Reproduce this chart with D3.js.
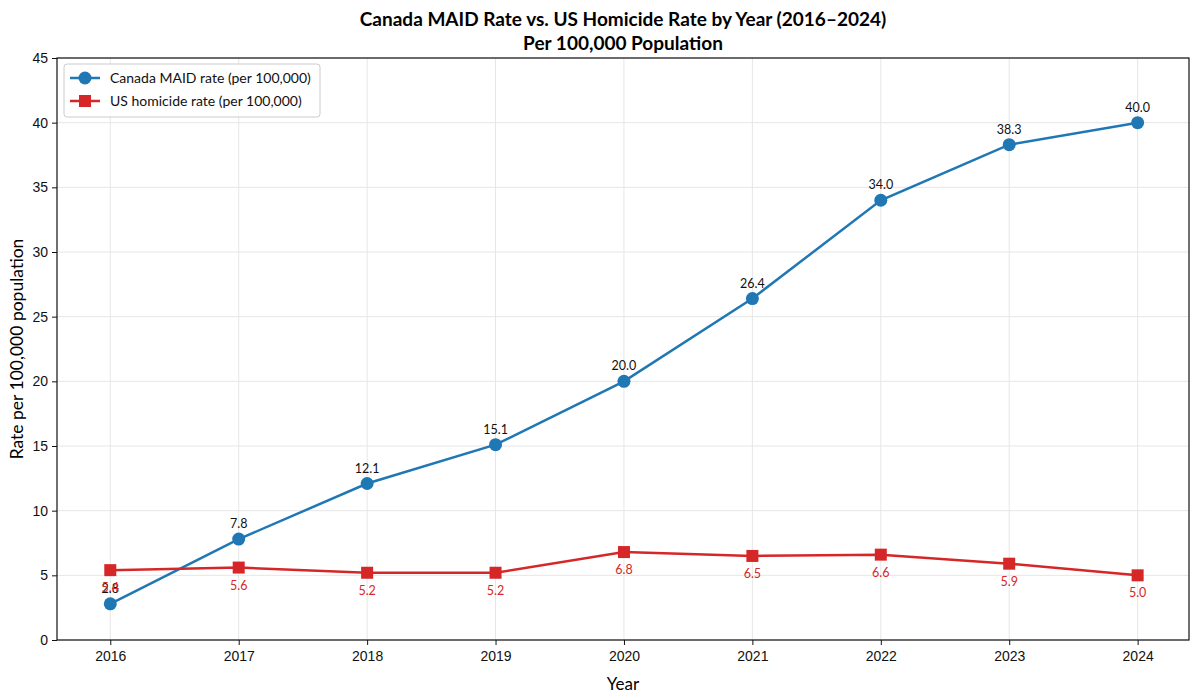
<!DOCTYPE html>
<html>
<head>
<meta charset="utf-8">
<script src="https://cdn.jsdelivr.net/npm/d3@7"></script>
<style>
  body { margin: 0; background: #fff; }
  svg { font-family: "Lato", "Noto Sans", sans-serif; }
  .grid line { stroke: #e6e6e6; stroke-width: 1; }
  .axis text { font-size: 14px; fill: #111; }
  .axis path, .axis line { stroke: #111; }
</style>
</head>
<body>
<div id="chart"></div>
<script>
// data
var years = [2016, 2017, 2018, 2019, 2020, 2021, 2022, 2023, 2024];
var maidRate = [2.8, 7.8, 12.1, 15.1, 20.0, 26.4, 34.0, 38.3, 40.0];
var usHomicide = [5.4, 5.6, 5.2, 5.2, 6.8, 6.5, 6.6, 5.9, 5.0];
var yTicks = [0, 5, 10, 15, 20, 25, 30, 35, 40, 45];

var W = 1199, H = 698;
var margin = {top: 58, right: 10, bottom: 58, left: 57},
    w = W - margin.left - margin.right,
    h = H - margin.top - margin.bottom;

var blue = "#1f77b4", red = "#d62728";

var svg = d3.select("#chart").append("svg")
            .attr("width", W).attr("height", H);

/***Title***/
svg.append("text")
   .attr("x", margin.left + w / 2).attr("y", 26)
   .attr("text-anchor", "middle")
   .style("font-size", "19px").style("font-weight", "bold")
   .text("Canada MAID Rate vs. US Homicide Rate by Year (2016\u20132024)");
svg.append("text")
   .attr("x", margin.left + w / 2).attr("y", 50)
   .attr("text-anchor", "middle")
   .style("font-size", "19px").style("font-weight", "bold")
   .text("Per 100,000 Population");

var g = svg.append("g")
           .attr("transform", "translate(" + margin.left + "," + margin.top + ")");

/***Scales***/
var xScale = d3.scaleLinear().domain([2015.585, 2024.4]).range([0, w]);
var yScale = d3.scaleLinear().domain([0, 45]).range([h, 0]);

/***Grid***/
var grid = g.append("g").attr("class", "grid");
grid.selectAll(".gx").data(years).enter().append("line")
    .attr("x1", function(d){ return xScale(d); })
    .attr("x2", function(d){ return xScale(d); })
    .attr("y1", 0).attr("y2", h);
grid.selectAll(".gy").data(yTicks).enter().append("line")
    .attr("x1", 0).attr("x2", w)
    .attr("y1", function(d){ return yScale(d); })
    .attr("y2", function(d){ return yScale(d); });

/***Axes***/
var xAxis = d3.axisBottom(xScale).tickValues(years)
              .tickFormat(d3.format("d")).tickSize(5).tickPadding(6);
var yAxis = d3.axisLeft(yScale).tickValues(yTicks).tickSize(5).tickPadding(4);

g.append("g").attr("class", "axis")
 .attr("transform", "translate(0," + h + ")")
 .call(xAxis);
g.append("g").attr("class", "axis").call(yAxis);
g.selectAll(".axis .domain").remove();

// frame
g.append("rect").attr("width", w).attr("height", h)
 .attr("fill", "none").attr("stroke", "#111").attr("stroke-width", 1.2);

/***Axis titles***/
svg.append("text")
   .attr("x", margin.left + w / 2).attr("y", H - 8)
   .attr("text-anchor", "middle").style("font-size", "17px")
   .text("Year");
svg.append("text")
   .attr("transform", "translate(23," + (margin.top + h / 2) + ") rotate(-90)")
   .attr("text-anchor", "middle").style("font-size", "17.5px")
   .text("Rate per 100,000 population");

/***Lines***/
var line = function(vals) {
  return d3.line()
           .x(function(d, i){ return xScale(years[i]); })
           .y(function(d){ return yScale(d); })(vals);
};

g.append("path").attr("d", line(maidRate))
 .attr("fill", "none").attr("stroke", blue).attr("stroke-width", 2.5);
g.append("path").attr("d", line(usHomicide))
 .attr("fill", "none").attr("stroke", red).attr("stroke-width", 2.5);

g.selectAll(".maidDot").data(maidRate).enter().append("circle")
 .attr("cx", function(d, i){ return xScale(years[i]); })
 .attr("cy", function(d){ return yScale(d); })
 .attr("r", 6.5).attr("fill", blue);

g.selectAll(".usSq").data(usHomicide).enter().append("rect")
 .attr("x", function(d, i){ return xScale(years[i]) - 6; })
 .attr("y", function(d){ return yScale(d) - 6; })
 .attr("width", 12).attr("height", 12).attr("fill", red);

/***Value labels***/
g.selectAll(".maidLbl").data(maidRate).enter().append("text")
 .attr("x", function(d, i){ return xScale(years[i]); })
 .attr("y", function(d){ return yScale(d) - 11; })
 .attr("text-anchor", "middle").style("font-size", "12.5px").attr("fill", "#111")
 .text(function(d){ return d.toFixed(1); });

g.selectAll(".usLbl").data(usHomicide).enter().append("text")
 .attr("x", function(d, i){ return xScale(years[i]); })
 .attr("y", function(d){ return yScale(d) + 22; })
 .attr("text-anchor", "middle").style("font-size", "12.5px").attr("fill", red)
 .text(function(d){ return d.toFixed(1); });

/***Legend***/
var legend = g.append("g").attr("transform", "translate(7,6)");
legend.append("rect").attr("width", 256).attr("height", 53).attr("rx", 3)
      .attr("fill", "#fff").attr("fill-opacity", 0.85)
      .attr("stroke", "#ccc");
var items = [
  {label: "Canada MAID rate (per 100,000)", color: blue, shape: "circle"},
  {label: "US homicide rate (per 100,000)", color: red, shape: "square"}
];
items.forEach(function(it, i) {
  var y = 14 + i * 23;
  legend.append("line").attr("x1", 6).attr("x2", 36).attr("y1", y).attr("y2", y)
        .attr("stroke", it.color).attr("stroke-width", 2.5);
  if (it.shape === "circle") {
    legend.append("circle").attr("cx", 21).attr("cy", y).attr("r", 6.5).attr("fill", it.color);
  } else {
    legend.append("rect").attr("x", 15).attr("y", y - 6).attr("width", 12).attr("height", 12).attr("fill", it.color);
  }
  legend.append("text").attr("x", 46).attr("y", y + 5)
        .style("font-size", "14px").attr("fill", "#111").text(it.label);
});
</script>
</body>
</html>
